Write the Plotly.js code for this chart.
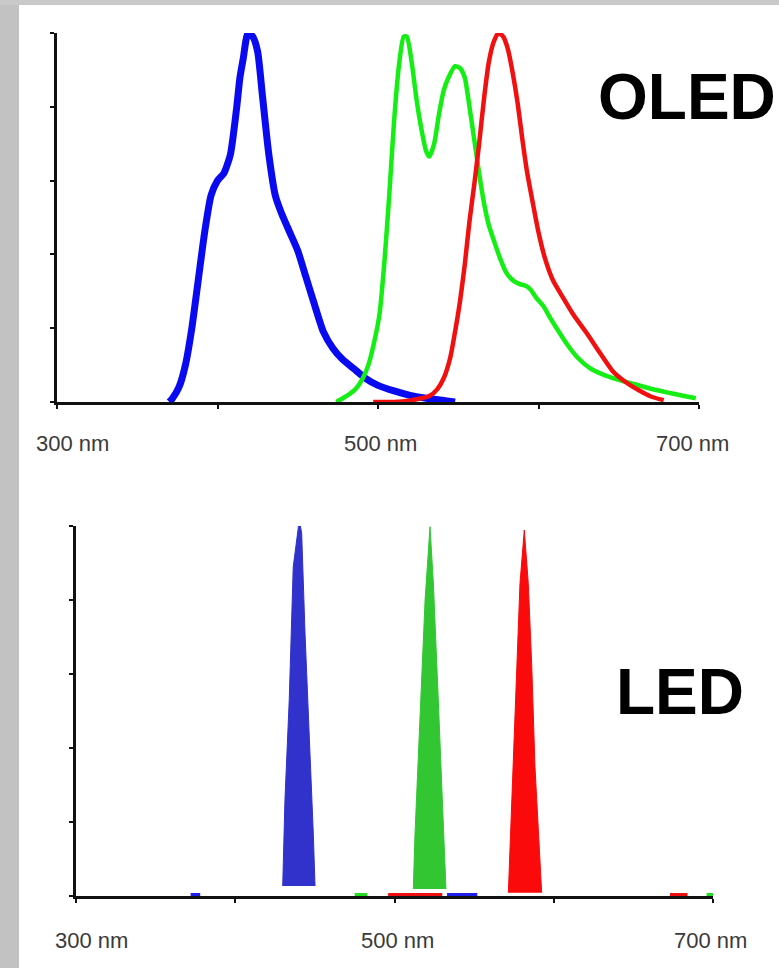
<!DOCTYPE html>
<html>
<head>
<meta charset="utf-8">
<script src="https://cdn.plot.ly/plotly-3.0.1.min.js"></script>
<style>html,body{margin:0;padding:0;background:#fff;}#chart{width:779px;height:968px;}</style>
</head>
<body>
<div id="chart"></div>
<script>
// ---------- OLED spectra (wavelength nm, relative intensity) ----------
const oledBlueWl  = [370,372,376,380,384,388,392,396,400,404,408,412,414,416,419,422,425,428,432,436,440,445,450,455,460,466,472,478,485,492,500,510,520,530,540,548];
const oledBlueVal = [0.0,0.01,0.04,0.10,0.20,0.33,0.46,0.56,0.60,0.62,0.67,0.80,0.88,0.93,1.0,0.99,0.95,0.83,0.67,0.56,0.51,0.46,0.41,0.34,0.27,0.19,0.145,0.115,0.09,0.065,0.045,0.03,0.018,0.01,0.005,0.0];

const oledGreenWl  = [474,480,486,490,494,498,501,504,507,510,513,516,518,521,524,527,530,532,535,538,541,544,548,551,554,557,560,563,566,569,572,576,580,584,588,592,595,599,603,607,612,618,624,632,640,650,660,670,680,690,698];
const oledGreenVal = [0.0,0.015,0.035,0.06,0.10,0.17,0.24,0.38,0.56,0.76,0.91,0.99,0.99,0.92,0.82,0.74,0.68,0.665,0.70,0.78,0.845,0.88,0.91,0.905,0.88,0.80,0.71,0.62,0.54,0.48,0.44,0.39,0.35,0.33,0.32,0.315,0.305,0.28,0.26,0.23,0.195,0.155,0.122,0.092,0.075,0.06,0.048,0.036,0.026,0.017,0.01];

const oledRedWl  = [497,510,520,527,532,537,541,545,548,551,554,557,560,563,566,569,572,575,578,581,584,587,590,593,596,600,604,609,615,622,630,638,646,654,662,670,678];
const oledRedVal = [0.0,0.0,0.004,0.01,0.016,0.035,0.065,0.12,0.19,0.27,0.37,0.49,0.59,0.70,0.82,0.92,0.975,1.0,0.99,0.955,0.89,0.81,0.71,0.62,0.55,0.46,0.39,0.33,0.285,0.235,0.187,0.135,0.085,0.055,0.033,0.015,0.005];

// ---------- LED spectra (outline of filled peaks) ----------
const ledBlueWl  = [429.8,431.2,433.9,436.4,440.2,441.7,443.8,446.5,449.0,450.1];
const ledBlueVal = [0.027,0.259,0.530,0.889,1.016,0.981,0.711,0.441,0.170,0.027];
const ledGreenWl  = [511.8,512.9,515.6,519.2,522.3,524.4,527.5,530.7,532.3];
const ledGreenVal = [0.019,0.17,0.44,0.80,0.998,0.846,0.53,0.214,0.019];
const ledRedWl  = [571.5,572.5,574.6,576.7,578.8,581.5,584,586.2,588.2,591,592.4];
const ledRedVal = [0.009,0.124,0.35,0.62,0.845,0.989,0.845,0.62,0.35,0.124,0.009];

// small residual traces lying on the LED baseline: [start, end] wavelengths
const ledBaseBlue  = [[372,378],[533,552]];
const ledBaseGreen = [[475,483],[696,700]];
const ledBaseRed   = [[496,530],[673,684]];

// ---------- axes ticks ----------
const xTicks = [300,400,500,600,700];
const xLabelVals = [300,500,700];
const xLabelText = ['300 nm','500 nm','700 nm'];
const yTicks = [0,0.2,0.4,0.6,0.8,1.0];

const W = 779, H = 968;
const px = v => v / W;
const py = v => 1 - v / H;

const traces = [];
function line(x, y, color, width, xa, ya) {
  traces.push({type:'scatter', mode:'lines', x:x, y:y, xaxis:xa, yaxis:ya,
    line:{color:color, width:width, shape:'spline', smoothing:0.6}, hoverinfo:'skip'});
}
line(oledBlueWl, oledBlueVal, '#0a0af0', 7, 'x', 'y');
line(oledGreenWl, oledGreenVal, '#14ee14', 4.5, 'x', 'y');
line(oledRedWl, oledRedVal, '#f01010', 4.5, 'x', 'y');

function peak(x, y, color) {
  traces.push({type:'scatter', mode:'lines', x:x, y:y, xaxis:'x2', yaxis:'y2',
    fill:'toself', fillcolor:color, line:{color:color, width:1}, hoverinfo:'skip'});
}
peak(ledBlueWl, ledBlueVal, '#3131cc');
peak(ledGreenWl, ledGreenVal, '#33c633');
peak(ledRedWl, ledRedVal, '#fa0a0a');

function base(segs, color) {
  segs.forEach(s => traces.push({type:'scatter', mode:'lines', x:s, y:[0.004,0.004],
    xaxis:'x2', yaxis:'y2', line:{color:color, width:3}, hoverinfo:'skip'}));
}
base(ledBaseBlue, '#2020ee');
base(ledBaseGreen, '#22dd22');
base(ledBaseRed, '#ee1010');

const axCommon = {showgrid:false, zeroline:false, showline:true, linecolor:'#111',
  linewidth:3, ticks:'outside', ticklen:4, tickwidth:2, tickcolor:'#111',
  showticklabels:false, fixedrange:true};

const layout = {
  width:W, height:H, margin:{l:0,r:0,t:0,b:0}, showlegend:false,
  paper_bgcolor:'#ffffff', plot_bgcolor:'rgba(0,0,0,0)', hovermode:false,
  xaxis: Object.assign({}, axCommon, {domain:[px(57), px(699)], range:[300,700],
    tickmode:'array', tickvals:xTicks, anchor:'y'}),
  yaxis: Object.assign({}, axCommon, {domain:[py(402), py(33)], range:[0,1],
    tickmode:'array', tickvals:yTicks, anchor:'x'}),
  xaxis2: Object.assign({}, axCommon, {domain:[px(76), px(713)], range:[300,700],
    tickmode:'array', tickvals:xTicks, anchor:'y2', layer:'below traces'}),
  yaxis2: Object.assign({}, axCommon, {domain:[py(896), py(526)], range:[0,1],
    tickmode:'array', tickvals:yTicks, anchor:'x2'}),
  shapes:[
    {type:'rect', xref:'paper', yref:'paper', x0:0, x1:px(19), y0:0, y1:1,
      fillcolor:'#c2c2c2', line:{width:0}, layer:'below'},
    {type:'rect', xref:'paper', yref:'paper', x0:0, x1:1, y0:py(5), y1:1,
      fillcolor:'#cacaca', line:{width:0}, layer:'below'}
  ],
  annotations:[]
};

const labelFont = {family:'Liberation Sans, Arial, sans-serif', size:22, color:'#3a3a3a'};
const topShift = [15, 2, -7];
const botShift = [15, 3, -3];
xLabelVals.forEach((v, i) => {
  layout.annotations.push({xref:'x', yref:'y', x:v, y:0, xshift:topShift[i], yshift:-41,
    text:xLabelText[i], showarrow:false, font:labelFont, xanchor:'center', yanchor:'middle'});
  layout.annotations.push({xref:'x2', yref:'y2', x:v, y:0, xshift:botShift[i], yshift:-44,
    text:xLabelText[i], showarrow:false, font:labelFont, xanchor:'center', yanchor:'middle'});
});
layout.annotations.push({xref:'paper', yref:'paper', x:px(778), y:py(97), xanchor:'right', yanchor:'middle',
  text:'<b>OLED</b>', showarrow:false,
  font:{family:'Liberation Sans, Arial, sans-serif', size:64, color:'#000'}});
layout.annotations.push({xref:'paper', yref:'paper', x:px(614), y:py(692), xanchor:'left', yanchor:'middle',
  text:'<b>LED</b>', showarrow:false,
  font:{family:'Liberation Sans, Arial, sans-serif', size:64, color:'#000'}});

Plotly.newPlot('chart', traces, layout, {staticPlot:true, displayModeBar:false});
</script>
</body>
</html>
